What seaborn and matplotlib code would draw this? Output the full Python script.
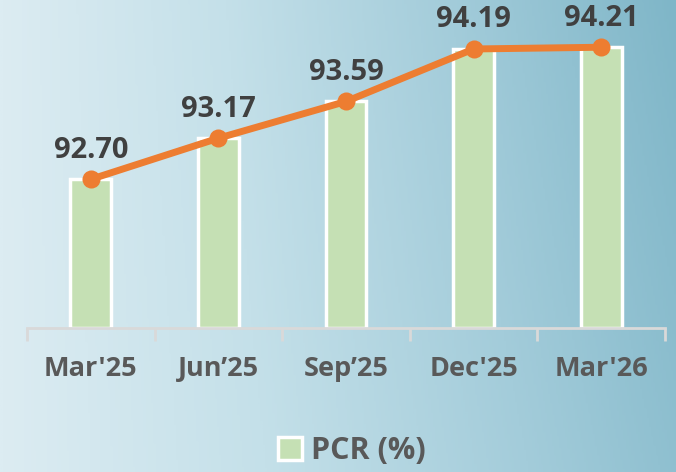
import numpy as np
import matplotlib
matplotlib.use("Agg")
import matplotlib.pyplot as plt
import seaborn as sns
import pandas as pd
from matplotlib.colors import LinearSegmentedColormap
from matplotlib.patches import Patch

categories = ["Mar'25", "Jun\u201925", "Sep\u201925", "Dec'25", "Mar'26"]
pcr_values = [92.70, 93.17, 93.59, 94.19, 94.21]
value_labels = ["92.70", "93.17", "93.59", "94.19", "94.21"]

df = pd.DataFrame({"period": categories, "pcr": pcr_values})

sns.set_theme(style="white")
plt.rcParams['font.family'] = ['Open Sans', 'DejaVu Sans']

W, H = 676, 472
fig = plt.figure(figsize=(W / 100, H / 100), dpi=100)

# background gradient
bg = fig.add_axes([0, 0, 1, 1], zorder=0)
xx = np.linspace(0, 1, 300)
yy = np.linspace(0, 1, 200)
X, Y = np.meshgrid(xx, yy)
t = np.clip(0.85 * X + 0.15 * (1 - Y) * X, 0, 1)
cmap = LinearSegmentedColormap.from_list(
    "bg", ["#dcecf2", "#c4e0e9", "#a3ccda", "#7fb6c8"])
bg.imshow(t, cmap=cmap, aspect="auto", extent=[0, 1, 0, 1], origin="upper")
bg.axis("off")

# main axes
left = 27 / W
right = 665 / W
bottom = 1 - 328 / H
ax = fig.add_axes([left, bottom, right - left, 328 / H], zorder=1)
ax.patch.set_alpha(0)

sns.barplot(data=df, x="period", y="pcr", ax=ax, color="#c5e0b4",
            width=0.32, edgecolor="white", linewidth=2.5, saturation=1,
            zorder=2)
ymin, ymax = 91.0, 94.75
for p in ax.patches:
    h = p.get_height()
    p.set_y(ymin)
    p.set_height(h - ymin)

sns.lineplot(x=np.arange(len(categories)), y=pcr_values, ax=ax,
             color="#ed7d31", linewidth=5, marker="o", markersize=13,
             markeredgewidth=0, zorder=4)

for i, (v, lab) in enumerate(zip(pcr_values, value_labels)):
    ax.annotate(lab, (i, v), xytext=(0, 21), textcoords="offset points",
                ha="center", va="center", fontsize=21, fontweight="bold",
                color="#404040", zorder=5)

ax.set_ylim(ymin, ymax)
ax.set_xlim(-0.5, len(categories) - 0.5)
ax.set_xlabel("")
ax.set_ylabel("")
ax.set_yticks([])
ax.set_xticks(range(len(categories)))
ax.set_xticklabels(categories, fontsize=19.5, fontweight="bold", color="#595959")
ax.tick_params(axis="x", which="major", length=0, pad=20)
for s in ["top", "right", "left"]:
    ax.spines[s].set_visible(False)
ax.spines["bottom"].set_color("#d9d9d9")
ax.spines["bottom"].set_linewidth(2)
ax.set_xticks(np.arange(-0.5, len(categories)), minor=True)
ax.tick_params(axis="x", which="minor", bottom=True, length=9, width=2,
               color="#d9d9d9", direction="out")

handle = Patch(facecolor="#c5e0b4", edgecolor="white", linewidth=2.5, label="PCR (%)")
fig.legend(handles=[handle], loc="center", bbox_to_anchor=(352 / W, 1 - 451 / H),
           frameon=False, prop={"weight": "bold", "size": 22},
           handlelength=0.8, handleheight=0.8, handletextpad=0.3, labelcolor="#595959")

fig.savefig("out.png", dpi=100)
